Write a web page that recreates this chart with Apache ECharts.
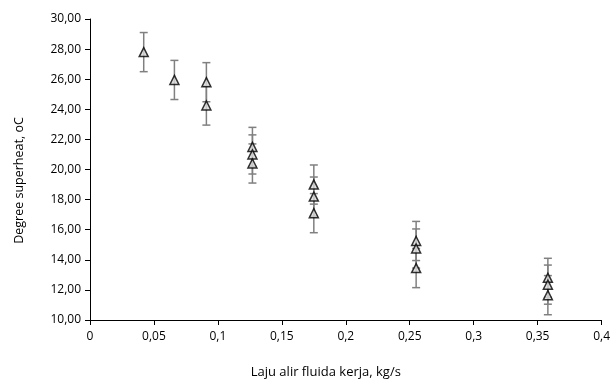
<!DOCTYPE html>
<html>
<head>
<meta charset="utf-8">
<script src="https://cdn.jsdelivr.net/npm/echarts@6/dist/echarts.min.js"></script>
<style>
  html, body { margin: 0; padding: 0; background: #fff; }
  #chart { width: 613px; height: 386px; }
</style>
</head>
<body>
<div id="chart"></div>
<script>
const flowRate = [0.042, 0.066, 0.091, 0.091, 0.127, 0.127, 0.127, 0.175, 0.175, 0.175, 0.255, 0.255, 0.255, 0.358, 0.358, 0.358];
const superheat = [27.8, 25.95, 25.8, 24.25, 21.5, 21.0, 20.4, 19.0, 18.2, 17.1, 15.25, 14.75, 13.45, 12.8, 12.35, 11.65];
const errorSize = [1.3, 1.3, 1.3, 1.3, 1.3, 1.3, 1.3, 1.3, 1.3, 1.3, 1.3, 1.3, 1.3, 1.3, 1.3, 1.3];

const points = flowRate.map((x, i) => [x, superheat[i]]);
const bars = flowRate.map((x, i) => [x, superheat[i] - errorSize[i], superheat[i] + errorSize[i]]);

const chart = echarts.init(document.getElementById("chart"));

const font = "'Open Sans', sans-serif";

const option = {
  animation: false,
  grid: { left: 90, right: 10, top: 19, bottom: 66 },
  xAxis: {
    type: "value",
    min: 0,
    max: 0.4,
    interval: 0.05,
    name: "Laju alir fluida kerja, kg/s",
    nameLocation: "middle",
    nameGap: 46,
    nameTextStyle: { color: "#000", fontSize: 13, fontFamily: font, padding: [0, 40, 0, 0] },
    axisLine: { lineStyle: { color: "#000", width: 1 } },
    axisTick: { show: true, length: 5, lineStyle: { color: "#000" } },
    splitLine: { show: false },
    axisLabel: {
      color: "#000",
      fontSize: 12,
      fontFamily: font,
      margin: 11,
      formatter: (v) => String(+v.toFixed(2)).replace(".", ",")
    }
  },
  yAxis: {
    type: "value",
    min: 10,
    max: 30,
    interval: 2,
    name: "Degree superheat, oC",
    nameLocation: "middle",
    nameGap: 64,
    nameTextStyle: { color: "#000", fontSize: 12.5, fontFamily: font, padding: [0, 22, 0, 0] },
    axisLine: { show: true, lineStyle: { color: "#000", width: 1 } },
    axisTick: { show: true, length: 5, lineStyle: { color: "#000" } },
    splitLine: { show: false },
    axisLabel: {
      color: "#000",
      fontSize: 12,
      fontFamily: font,
      margin: 9,
      formatter: (v) => v.toFixed(2).replace(".", ",")
    }
  },
  series: [
    {
      type: "custom",
      data: bars,
      z: 1,
      renderItem: (params, api) => {
        const x = api.value(0);
        const lo = api.coord([x, api.value(1)]);
        const hi = api.coord([x, api.value(2)]);
        const w = 4;
        const style = { stroke: "#808080", lineWidth: 1.5 };
        return {
          type: "group",
          children: [
            { type: "line", shape: { x1: lo[0], y1: lo[1], x2: hi[0], y2: hi[1] }, style },
            { type: "line", shape: { x1: lo[0] - w, y1: lo[1], x2: lo[0] + w, y2: lo[1] }, style },
            { type: "line", shape: { x1: hi[0] - w, y1: hi[1], x2: hi[0] + w, y2: hi[1] }, style }
          ]
        };
      }
    },
    {
      type: "scatter",
      data: points,
      z: 2,
      symbol: "triangle",
      symbolSize: 9,
      itemStyle: { color: "#d9d9d9", borderColor: "#000", borderWidth: 1.5 }
    }
  ]
};

chart.setOption(option);
</script>
</body>
</html>
